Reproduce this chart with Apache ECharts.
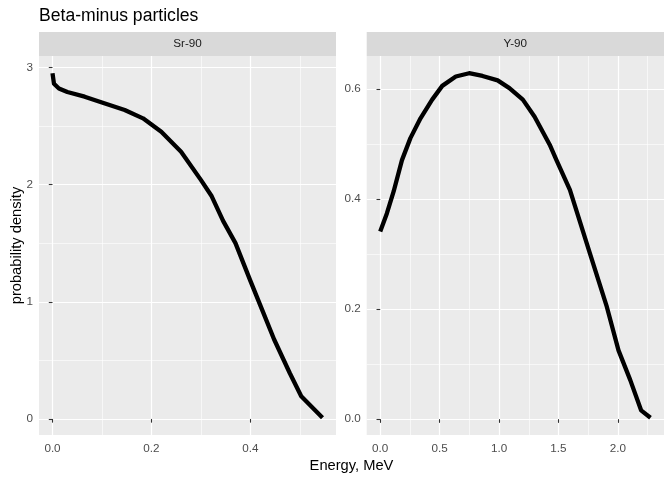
<!DOCTYPE html>
<html>
<head>
<meta charset="utf-8">
<script src="https://cdn.jsdelivr.net/npm/echarts@6/dist/echarts.min.js"></script>
<style>
  html, body { margin: 0; padding: 0; background: #fff; }
  #chart { width: 672px; height: 480px; }
</style>
</head>
<body>
<div id="chart"></div>
<script>
// 面板名称
const panels = ['Sr-90', 'Y-90'];

// Sr-90 能谱
const srEnergy  = [0, 0.003, 0.013, 0.03, 0.065, 0.10, 0.146, 0.183, 0.22, 0.26, 0.30, 0.322, 0.345, 0.37, 0.40, 0.425, 0.448, 0.48, 0.503, 0.546];
const srDensity = [2.95, 2.86, 2.82, 2.79, 2.75, 2.70, 2.636, 2.565, 2.45, 2.28, 2.04, 1.90, 1.69, 1.50, 1.18, 0.92, 0.68, 0.39, 0.194, 0.01];

// Y-90 能谱
const yEnergy  = [0, 0.056, 0.113, 0.183, 0.254, 0.339, 0.437, 0.522, 0.636, 0.748, 0.861, 0.988, 1.087, 1.2, 1.299, 1.426, 1.483, 1.596, 1.765, 1.907, 2.005, 2.104, 2.195, 2.274];
const yDensity = [0.341, 0.374, 0.414, 0.471, 0.511, 0.547, 0.581, 0.606, 0.623, 0.629, 0.624, 0.616, 0.602, 0.581, 0.55, 0.499, 0.471, 0.417, 0.301, 0.204, 0.125, 0.071, 0.016, 0.0025];

// 刻度
const srXTicks = [0, 0.2, 0.4];
const srXMinor = [0.1, 0.3, 0.5];
const srYTicks = [0, 1, 2, 3];
const srYMinor = [0.5, 1.5, 2.5];
const yXTicks = [0, 0.5, 1, 1.5, 2];
const yXMinor = [0.25, 0.75, 1.25, 1.75, 2.25];
const yYTicks = [0, 0.2, 0.4, 0.6];
const yYMinor = [0.1, 0.3, 0.5];

const FONT = 'Liberation Sans, Arial, sans-serif';

// ggplot 默认 5% 扩展
function expand(arr) {
    const lo = Math.min(...arr), hi = Math.max(...arr);
    const d = (hi - lo) * 0.05;
    return [lo - d, hi + d];
}

function majorAxis(grid, ticks, range, digits, isY) {
    return {
        type: 'value',
        gridIndex: grid,
        min: range[0],
        max: range[1],
        axisLine: { show: false },
        axisTick: { show: true, length: 3.7, customValues: ticks, lineStyle: { color: '#333333', width: 1.07 } },
        axisLabel: {
            customValues: ticks,
            color: '#4D4D4D',
            fontSize: 11.7,
            fontFamily: FONT,
            margin: isY ? 6 : 8,
            formatter: v => v.toFixed(digits)
        },
        splitLine: { show: true, lineStyle: { color: '#FFFFFF', width: 1.2 } }
    };
}

function minorAxis(grid, ticks, range) {
    return {
        type: 'value',
        gridIndex: grid,
        min: range[0],
        max: range[1],
        axisLine: { show: false },
        axisTick: { show: false, customValues: ticks },
        axisLabel: { show: false, customValues: ticks },
        splitLine: { show: true, lineStyle: { color: '#FFFFFF', width: 0.6 } }
    };
}

const srXR = expand(srEnergy), srYR = expand(srDensity);
const yXR = expand(yEnergy), yYR = expand(yDensity);

const chart = echarts.init(document.getElementById('chart'));

chart.setOption({
    animation: false,
    backgroundColor: '#FFFFFF',
    title: {
        text: 'Beta-minus particles',
        left: 39,
        top: 7,
        padding: 0,
        textStyle: { color: '#000', fontSize: 17.6, fontWeight: 'normal', fontFamily: FONT }
    },
    grid: [
        { left: 39, top: 56, width: 297, height: 379, show: true, backgroundColor: '#EBEBEB', borderWidth: 0 },
        { left: 366.7, top: 56, width: 297.3, height: 379, show: true, backgroundColor: '#EBEBEB', borderWidth: 0 }
    ],
    xAxis: [
        majorAxis(0, srXTicks, srXR, 1, false),
        minorAxis(0, srXMinor, srXR),
        majorAxis(1, yXTicks, yXR, 1, false),
        minorAxis(1, yXMinor, yXR)
    ],
    yAxis: [
        majorAxis(0, srYTicks, srYR, 0, true),
        minorAxis(0, srYMinor, srYR),
        majorAxis(1, yYTicks, yYR, 1, true),
        minorAxis(1, yYMinor, yYR)
    ],
    graphic: [
        { type: 'rect', shape: { x: 39, y: 32, width: 297, height: 24 }, style: { fill: '#D9D9D9' }, silent: true },
        { type: 'text', style: { text: panels[0], x: 187.5, y: 44, textAlign: 'center', textVerticalAlign: 'middle', fill: '#1A1A1A', font: '11.7px ' + FONT } },
        { type: 'rect', shape: { x: 366.7, y: 32, width: 297.3, height: 24 }, style: { fill: '#D9D9D9' }, silent: true },
        { type: 'text', style: { text: panels[1], x: 515.3, y: 44, textAlign: 'center', textVerticalAlign: 'middle', fill: '#1A1A1A', font: '11.7px ' + FONT } },
        { type: 'text', style: { text: 'Energy, MeV', x: 351.5, y: 466, textAlign: 'center', textVerticalAlign: 'middle', fill: '#000', font: '14.7px ' + FONT } },
        { type: 'text', x: 17, y: 245.5, rotation: Math.PI / 2, style: { text: 'probability density', x: 0, y: 0, textAlign: 'center', textVerticalAlign: 'middle', fill: '#000', font: '14.7px ' + FONT } }
    ],
    series: [
        {
            name: panels[0],
            type: 'line',
            xAxisIndex: 0,
            yAxisIndex: 0,
            showSymbol: false,
            symbol: 'none',
            lineStyle: { color: '#000', width: 4.3, cap: 'butt', join: 'round' },
            data: srEnergy.map((x, i) => [x, srDensity[i]])
        },
        {
            name: panels[1],
            type: 'line',
            xAxisIndex: 2,
            yAxisIndex: 2,
            showSymbol: false,
            symbol: 'none',
            lineStyle: { color: '#000', width: 4.3, cap: 'butt', join: 'round' },
            data: yEnergy.map((x, i) => [x, yDensity[i]])
        }
    ]
});
</script>
</body>
</html>
